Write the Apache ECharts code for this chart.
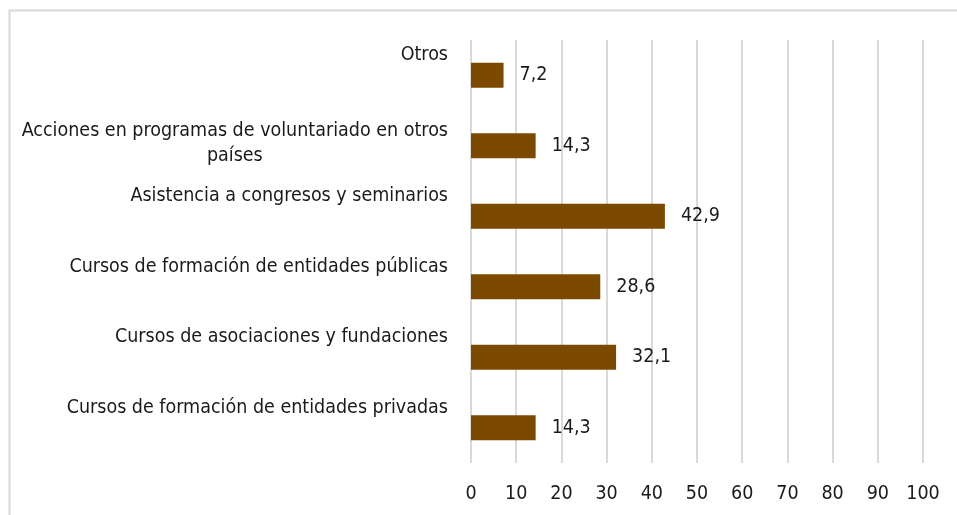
<!DOCTYPE html>
<html>
<head>
<meta charset="utf-8">
<script src="https://cdn.jsdelivr.net/npm/echarts@6/dist/echarts.min.js"></script>
<style>
html,body{margin:0;padding:0;background:#fff;}
#c{width:957px;height:515px;}
</style>
</head>
<body>
<div id="c"></div>
<script>
var categories = [
  "Otros",
  "Acciones en programas de voluntariado en otros países",
  "Asistencia a congresos y seminarios",
  "Cursos de formación de entidades públicas",
  "Cursos de asociaciones y fundaciones",
  "Cursos de formación de entidades privadas"
];
var values = [7.2, 14.3, 42.9, 28.6, 32.1, 14.3];
var xTicks = { min: 0, max: 100, step: 10 };

var FONT = '"Liberation Sans Narrow", "DejaVu Sans Condensed", "Arial Narrow", sans-serif';
var TXT = '#1a1a1a';
var FS = 19.5;

function wrap(s, maxChars) {
  var words = s.split(' '), lines = [], cur = '';
  words.forEach(function (w) {
    if (cur && (cur + ' ' + w).length > maxChars) { lines.push(cur); cur = w; }
    else { cur = cur ? cur + ' ' + w : w; }
  });
  if (cur) lines.push(cur);
  return lines;
}

var chart = echarts.init(document.getElementById('c'), null, { renderer: 'canvas' });
chart.setOption({
  animation: false,
  backgroundColor: '#fff',
  graphic: [{
    type: 'rect', silent: true, z: -10,
    shape: { x: 9.5, y: 10.5, width: 1000, height: 600 },
    style: { fill: 'none', stroke: '#d9d9d9', lineWidth: 2 }
  }],
  grid: { left: 471, right: 34, top: 40, bottom: 52, containLabel: false, outerBoundsMode: 'none' },
  xAxis: {
    type: 'value', min: xTicks.min, max: xTicks.max, interval: xTicks.step,
    axisLine: { show: false }, axisTick: { show: false },
    splitLine: { show: true, lineStyle: { color: '#d9d9d9', width: 2 } },
    axisLabel: { color: TXT, fontFamily: FONT, fontSize: FS, margin: 21 }
  },
  yAxis: {
    type: 'category', inverse: true, data: categories,
    axisLine: { show: false }, axisTick: { show: false },
    axisLabel: {
      margin: 23, align: 'right', verticalAlign: 'middle',
      formatter: function (v) {
        var lines = wrap(v, 46);
        var s = lines.map(function (l) { return '{a|' + l + '}'; }).join('\n');
        return s + '\n' + (lines.length === 1 ? '{e1| }' : '{e2| }');
      },
      rich: {
        a: { fontFamily: FONT, fontSize: FS, lineHeight: 25, color: TXT, align: 'center' },
        e1: { fontSize: 1, lineHeight: 40 },
        e2: { fontSize: 1, lineHeight: 4 }
      }
    }
  },
  series: [{
    type: 'bar', data: values, barWidth: 25,
    itemStyle: { color: '#7b4a00' },
    label: {
      show: true, position: 'right', distance: 16,
      color: TXT, fontFamily: FONT, fontSize: FS,
      formatter: function (p) { return String(p.value).replace('.', ','); }
    }
  }]
});
</script>
</body>
</html>
